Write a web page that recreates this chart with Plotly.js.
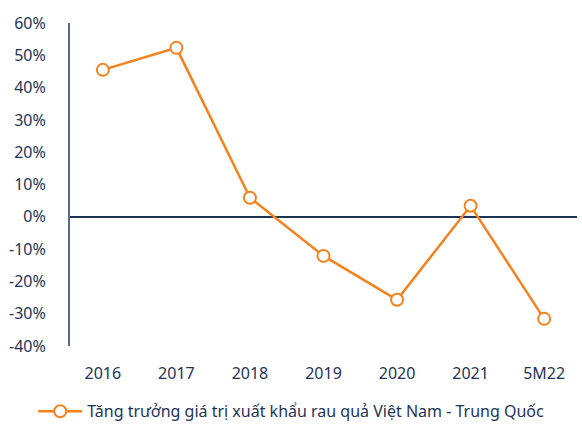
<!DOCTYPE html>
<html><head><meta charset="utf-8">
<script src="https://cdn.plot.ly/plotly-3.0.1.min.js"></script>
<style>body{margin:0;background:#fff}#c{width:582px;height:424px}</style>
</head><body><div id="c"></div>
<script>
const categories = ["2016","2017","2018","2019","2020","2021","5M22"];
const growth = [45.5, 52.3, 5.9, -12.1, -25.7, 3.4, -31.6];
const seriesName = "Tăng trưởng giá trị xuất khẩu rau quả Việt Nam - Trung Quốc";
const yTicks = [-40,-30,-20,-10,0,10,20,30,40,50,60];
const yTickText = yTicks.map(v => v + "%");

const orange = "#F4821F";
const navy = "#1E3457";
Plotly.newPlot("c", [{
  x: categories, y: growth, type: "scatter", mode: "lines+markers",
  name: seriesName,
  line: {color: orange, width: 2.5},
  marker: {symbol: "circle", size: 12, color: "#ffffff", line: {color: orange, width: 2}},
  cliponaxis: false
}], {
  width: 582, height: 424,
  margin: {l: 70, r: 5, t: 23, b: 78},
  paper_bgcolor: "#fff", plot_bgcolor: "#fff",
  font: {family: "Noto Sans, Open Sans, sans-serif", size: 16, color: navy},
  xaxis: {type: "category", showgrid: false, zeroline: false, showline: false,
    ticks: "", ticklabelstandoff: 16, tickfont: {size: 16, color: navy}},
  yaxis: {range: [-40, 60], tickvals: yTicks, ticktext: yTickText, showgrid: false,
    zeroline: true, zerolinecolor: navy, zerolinewidth: 1.5,
    showline: true, linecolor: "#5B6C86", linewidth: 2,
    ticks: "", ticklabelstandoff: 19, tickfont: {size: 16, color: navy}},
  showlegend: true,
  legend: {orientation: "h", xref: "container", yref: "container", x: 0.057, y: 0.03,
    xanchor: "left", yanchor: "middle", itemwidth: 44, font: {size: 16, color: navy}}
}, {displayModeBar: false, staticPlot: true});
</script></body></html>
